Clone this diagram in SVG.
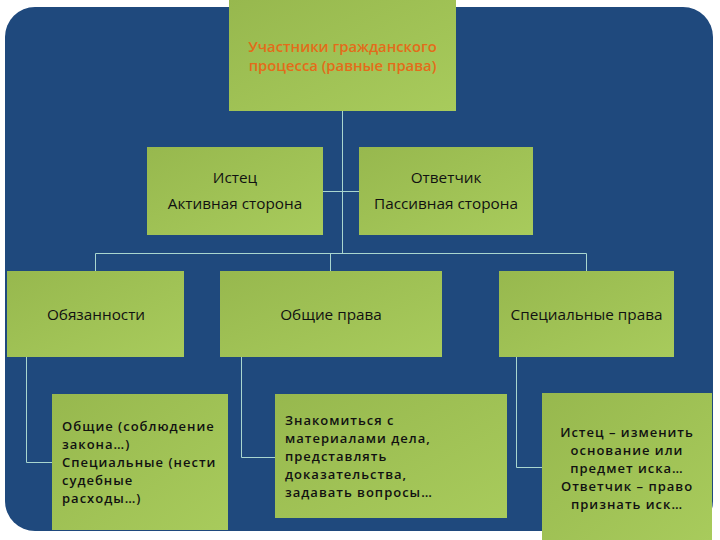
<svg xmlns="http://www.w3.org/2000/svg" width="720" height="540" viewBox="0 0 720 540">
<defs>
<linearGradient id="g" x1="0" y1="0" x2="1" y2="1">
<stop offset="0" stop-color="#97B84E"/>
<stop offset="1" stop-color="#A8CB5C"/>
</linearGradient>
<style>
.box{fill:url(#g);}
.t{font-family:"Open Sans","DejaVu Sans",sans-serif;font-size:15.3px;fill:#111;}
.b{font-weight:600;font-size:13px;letter-spacing:1px;}
.m{text-anchor:middle;}
.o{font-family:"Open Sans","DejaVu Sans",sans-serif;font-size:14.8px;fill:#E36C1A;text-anchor:middle;font-weight:600;}
.c{fill:none;stroke:#A9D6CF;stroke-width:1;}
</style>
</defs>
<rect x="0" y="0" width="720" height="540" fill="#FFFFFF"/>
<rect x="5" y="7" width="708" height="524" rx="30" ry="30" fill="#1F497D"/>
<g id="connectors">
<path class="c" d="M342.5 111 V253.5"/>
<path class="c" d="M323 191.5 H359"/>
<path class="c" d="M95.5 253.5 H586.5"/>
<path class="c" d="M95.5 253.5 V271"/>
<path class="c" d="M330.5 253.5 V271"/>
<path class="c" d="M586.5 253.5 V271"/>
<path class="c" d="M26.5 357 V462.5 H52"/>
<path class="c" d="M241.5 357 V457.5 H275"/>
<path class="c" d="M516.5 357 V467.5 H542"/>
</g>
<g id="root">
<rect class="box" x="229" y="0" width="227" height="111"/>
<text class="o" x="342.5" y="52">Участники гражданского</text>
<text class="o" x="342.5" y="71">процесса (равные права)</text>
</g>
<g id="istec">
<rect class="box" x="147" y="147" width="176" height="88"/>
<text class="t m" x="235" y="183">Истец</text>
<text class="t m" x="235" y="209">Активная сторона</text>
</g>
<g id="otvetchik">
<rect class="box" x="359" y="147" width="174" height="88"/>
<text class="t m" x="446" y="183">Ответчик</text>
<text class="t m" x="446" y="209">Пассивная сторона</text>
</g>
<g id="obyazannosti">
<rect class="box" x="7" y="271" width="177" height="86"/>
<text class="t m" x="96" y="320">Обязанности</text>
</g>
<g id="obshchie">
<rect class="box" x="220" y="271" width="222" height="86"/>
<text class="t m" x="331" y="320">Общие права</text>
</g>
<g id="specialnye">
<rect class="box" x="499" y="271" width="175" height="86"/>
<text class="t m" x="586.5" y="320">Специальные права</text>
</g>
<g id="obyaz-detail">
<rect class="box" x="52" y="394" width="176" height="136"/>
<text class="t b" x="62" y="431">Общие (соблюдение</text>
<text class="t b" x="62" y="449">закона…)</text>
<text class="t b" x="62" y="467">Специальные (нести</text>
<text class="t b" x="62" y="485">судебные</text>
<text class="t b" x="62" y="503">расходы…)</text>
</g>
<g id="obshchie-detail">
<rect class="box" x="275" y="394" width="232" height="124"/>
<text class="t b" x="285" y="425">Знакомиться с</text>
<text class="t b" x="285" y="443">материалами дела,</text>
<text class="t b" x="285" y="461">представлять</text>
<text class="t b" x="285" y="479">доказательства,</text>
<text class="t b" x="285" y="497">задавать вопросы…</text>
</g>
<g id="special-detail">
<rect class="box" x="542" y="393" width="170" height="147"/>
<text class="t b m" x="627" y="437">Истец – изменить</text>
<text class="t b m" x="627" y="455">основание или</text>
<text class="t b m" x="627" y="473">предмет иска…</text>
<text class="t b m" x="627" y="491">Ответчик – право</text>
<text class="t b m" x="627" y="509">признать иск…</text>
</g>
</svg>
